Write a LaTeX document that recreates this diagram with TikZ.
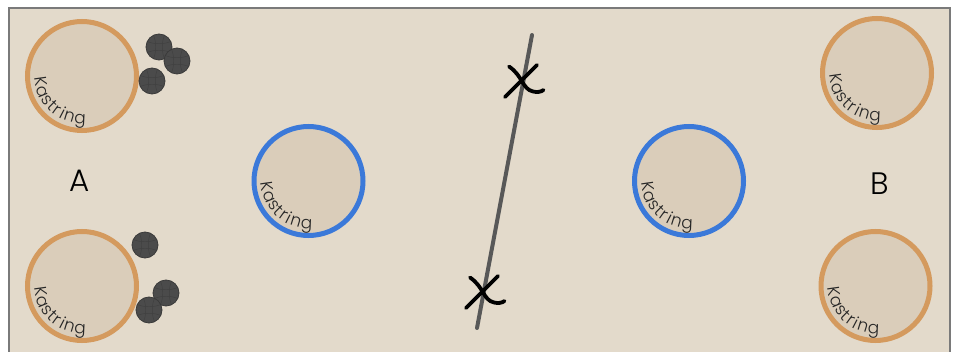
\documentclass[tikz,border=0pt]{standalone}
\usepackage{fontspec}
\setmainfont{Poppins}
\newfontfamily\thinfont{Poppins Light}

\definecolor{board}{HTML}{E3DACB}
\definecolor{frameline}{HTML}{7A7A7A}
\definecolor{ringfill}{HTML}{DACDBA}
\definecolor{ringorange}{HTML}{D49A5E}
\definecolor{ringblue}{HTML}{3B79D9}
\definecolor{ballfill}{HTML}{4B4B4B}
\definecolor{balledge}{HTML}{3A3A3A}
\definecolor{groovecol}{HTML}{404040}
\definecolor{cordcol}{HTML}{585858}

\tikzset{
  ring/.style={circle, draw=#1, fill=ringfill, line width=5pt,
    minimum size=109pt, inner sep=0pt},
  ringchar/.style={font=\thinfont\fontsize{17}{17}\selectfont, inner sep=0pt,
    anchor=base, text=black!85},
  groove/.style={draw=groovecol, line width=0.45pt},
  boule/.style={circle, draw=balledge, fill=ballfill, line width=0.8pt,
    minimum size=26pt, inner sep=0pt,
    path picture={
      \draw[groove, shift={(path picture bounding box.center)}, rotate=#1]
        (-5.5,12) .. controls (-2.5,4) and (-2.5,-4) .. (-5.5,-12)
        (5.5,12) .. controls (2.5,4) and (2.5,-4) .. (5.5,-12)
        (-12,5.5) .. controls (-4,2.5) and (4,2.5) .. (12,5.5)
        (-12,-5.5) .. controls (-4,-2.5) and (4,-2.5) .. (12,-5.5);}},
  boule/.default=0,
  cord/.style={draw=cordcol, line width=4pt, line cap=round},
  crossink/.style={draw=black, line width=3.8pt, line cap=round},
  teamlabel/.style={font=\thinfont\fontsize{31}{31}\selectfont, inner sep=0pt},
  crossmark/.pic={
    \draw[crossink] (14,16) .. controls (4,6) and (-8,-6) .. (-18,-16);
    \draw[crossink] (-14,14.5) .. controls (0,5) and (-1,-8) .. (10,-10.5)
      .. controls (14,-11.5) and (18,-11) .. (20.5,-9);
  }
}

% "Kastring" set letter by letter along the lower-left inside of a ring,
% baselines on a circle of radius 47.5, tops towards the centre
\newcommand\ringlabel[1]{%
  \foreach \ch/\ang in {K/188,a/202.6,s/215.4,t/225.3,r/234.3,i/242.5,n/253,g/267.4}{
    \node[ringchar, rotate=\ang+90] (#1-\ch)
      at ([shift={(\ang:47.5)}]#1.center) {\ch};
  }
}

\begin{document}
\begin{tikzpicture}[x=1pt, y=1pt]
  \useasboundingbox (0,0) rectangle (955,351);
  \fill[white] (0,0) rectangle (955,351);
  \draw[frameline, line width=1.6pt, fill=board] (9,-20) rectangle (950,343);

  % throwing line
  \coordinate (cordtop) at (532,316);
  \coordinate (cordbot) at (477,23);
  \draw[cord] (cordtop) -- (cordbot);
  \pic at (523,270) {crossmark};
  \pic at (484,59) {crossmark};

  % rings of side A
  \node[ring=ringorange] (ringA1) at (82,275) {};
  \node[ring=ringorange] (ringA2) at (82,65) {};
  % middle rings
  \node[ring=ringblue] (ringM1) at (308.5,170) {};
  \node[ring=ringblue] (ringM2) at (689,170) {};
  % rings of side B
  \node[ring=ringorange] (ringB1) at (877,278) {};
  \node[ring=ringorange] (ringB2) at (875.5,65) {};

  \ringlabel{ringA1}
  \ringlabel{ringA2}
  \ringlabel{ringM1}
  \ringlabel{ringM2}
  \ringlabel{ringB1}
  \ringlabel{ringB2}

  % team letters
  \node[teamlabel] (teamA) at (80,170) {A};
  \node[teamlabel] (teamB) at (880,167) {B};

  % boules
  \node[boule=10] (bA1) at (159,304) {};
  \node[boule=-15] (bA2) at (177,290) {};
  \node[boule=5] (bA3) at (152,270) {};
  \node[boule=0] (bB1) at (145,106) {};
  \node[boule=12] (bB2) at (166,58) {};
  \node[boule=-8] (bB3) at (149,41) {};
\end{tikzpicture}
\end{document}
